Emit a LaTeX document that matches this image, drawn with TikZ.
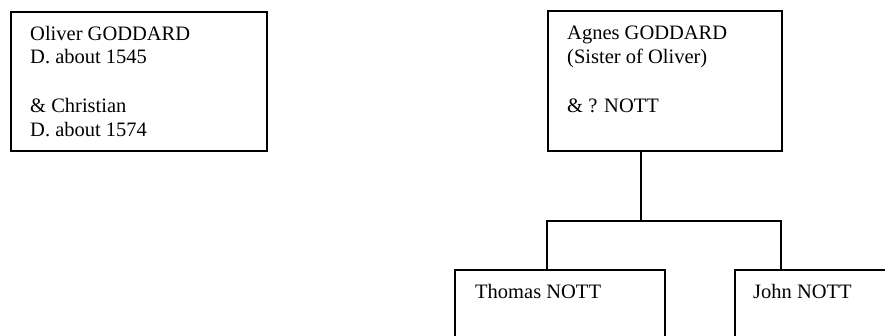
\documentclass[tikz,border=0pt]{standalone}
\usepackage{fontspec}
\setmainfont{Liberation Serif}
\usetikzlibrary{positioning}
\tikzset{
	person/.style={rectangle, draw=black, line width=1.7pt, inner sep=0pt, anchor=north west},
	personname/.style={inner sep=0pt, align=left, font=\fontsize{20.5}{23.5}\selectfont},
	link/.style={line width=1.7pt, draw=black},
}

\begin{document}
\begin{tikzpicture}[x=1pt, y=-1pt, node distance=15pt and 20pt]
		\useasboundingbox (0,0) rectangle (885,336);
		\clip (0,0) rectangle (885,336);
		\node[person, minimum width=256pt, minimum height=139pt] (oliver) at (10,11) {};
		\node[person, minimum width=234pt, minimum height=140pt] (agnes) at (547,10) {};
		\node[person, minimum width=210pt, minimum height=140pt] (thomas) at (454,269) {};
		\node[person, minimum width=210pt, minimum height=140pt] (john) at (734,269) {};
		\node[personname, below right=of oliver.north west] (olivername) {Oliver GODDARD\\D. about 1545\\[25.5pt]\& Christian\\D. about 1574};
		\node[personname, below right=16pt and 20pt of agnes.north west] (agnesname) {Agnes GODDARD\\(Sister of Oliver)\\[25.5pt]\& ? NOTT};
		\node[personname, below right=15pt and 21pt of thomas.north west] (thomasname) {Thomas NOTT};
		\node[personname, below right=15pt and 19pt of john.north west] (johnname) {John NOTT};
		\coordinate (split) at (641,221);
		\coordinate (leftdrop) at (547,221);
		\coordinate (rightdrop) at (781,221);
		\draw[link] (agnes.south -| split) -- (split);
		\draw[link] (thomas.north -| leftdrop) -- (leftdrop) -- (rightdrop) -- (john.north -| rightdrop);
	\end{tikzpicture}
\end{document}
